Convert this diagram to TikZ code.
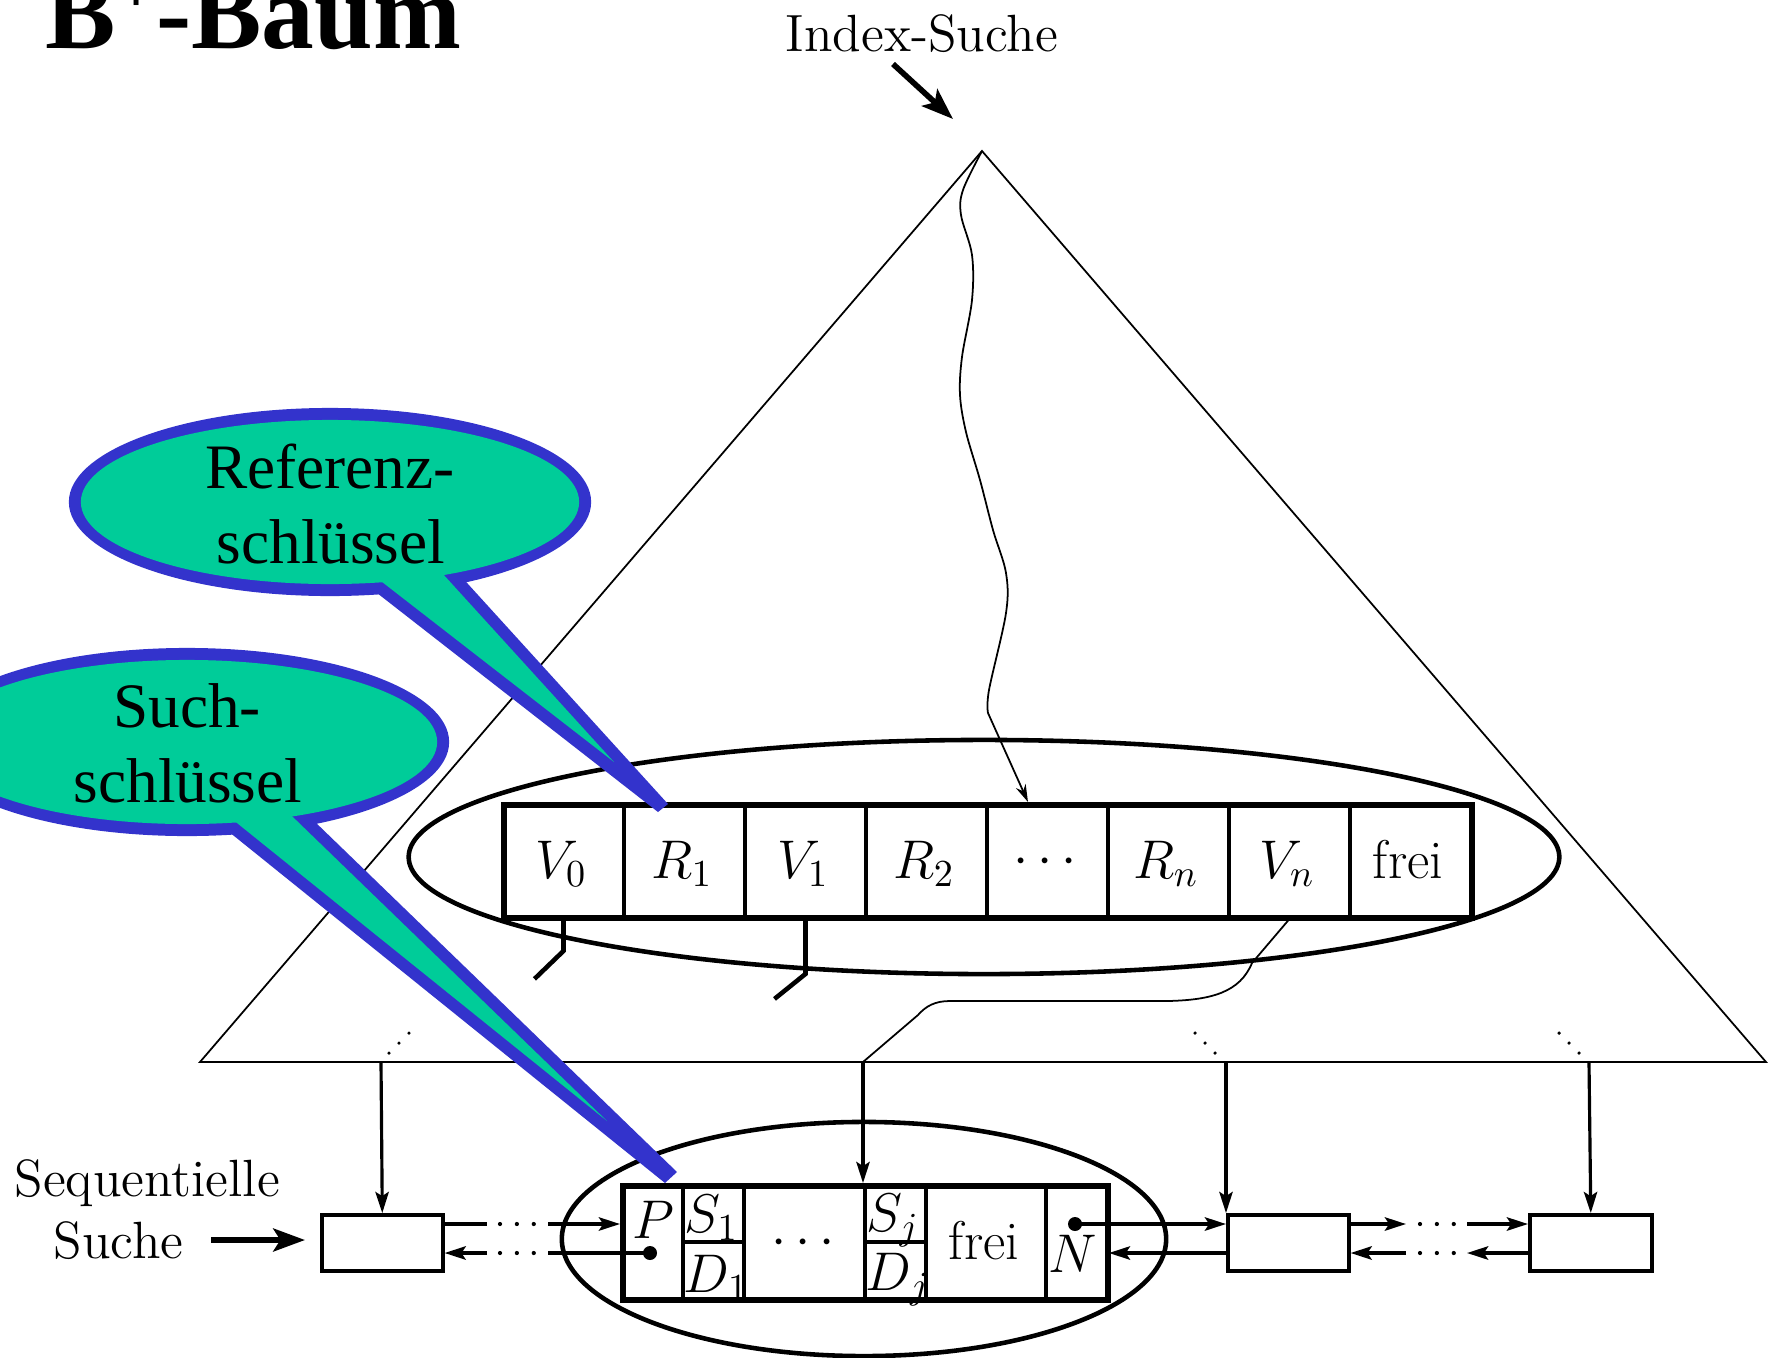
\RequirePackage{fix-cm}
\documentclass[tikz,border=0pt]{standalone}
\usepackage{fontspec}
\newfontfamily\timesfont{Liberation Serif}
\usetikzlibrary{arrows.meta}
\definecolor{bgreen}{RGB}{0,204,153}
\definecolor{bblue}{RGB}{51,51,204}
\tikzset{
  lab/.style={inner sep=0pt, font=\fontsize{15.5}{18}\selectfont},
  plaintxt/.style={inner sep=0pt, font=\fontsize{14.9}{18}\selectfont},
  bubbletxt/.style={inner sep=0pt, font=\timesfont\fontsize{18}{21}\selectfont},
  cellbox/.style={draw, line width=1.1pt, inner sep=0pt, anchor=north west, minimum height=1.13cm},
  lcellbox/.style={draw, line width=1.1pt, inner sep=0pt, anchor=north west, minimum height=1.14cm},
  framebox/.style={draw, line width=1.6pt, inner sep=0pt, anchor=north west},
  leafbox/.style={draw, line width=1.0pt, inner sep=0pt, anchor=north west, minimum height=0.56cm},
  thinline/.style={line width=0.5pt},
  tipstyle/.style={-{Stealth[length=6pt,width=3.8pt,inset=1.2pt]}},
  vptr/.style={line width=0.9pt, tipstyle},
  hptr/.style={line width=1.0pt, tipstyle},
  hseg/.style={line width=1.0pt},
  dotrow/.style={line width=1.2pt, dash pattern=on 0pt off 4.8pt, line cap=round},
  fewdots/.style={line width=1.0pt, dash pattern=on 0pt off 4pt, line cap=round},
  bigarrow/.style={line width=1.6pt, -{Stealth[length=9pt,width=6.5pt,inset=2pt]}},
  stub/.style={line width=1.3pt},
  ellipseline/.style={line width=1.3pt},
  blobdot/.style={circle, fill, inner sep=0pt, minimum size=0.14cm},
}
\begin{document}
\begin{tikzpicture}[x=0.01cm, y=-0.01cm]
\useasboundingbox (0,0) rectangle (1772,1357);
\fill[white] (0,0) rectangle (1772,1357);

% title and index label
\node[anchor=base west, inner sep=0pt, font=\timesfont\bfseries\fontsize{30}{36}\selectfont] (title) at (45,48) {B\raisebox{10pt}{\fontsize{20}{20}\selectfont +}-Baum};
\node[plaintxt, anchor=base west] (idx) at (785,51) {Index-Suche};
\coordinate (idxA) at (893,64);
\coordinate (idxB) at (953,119);
\draw[bigarrow] (idxA) -- (idxB);

% triangle
\coordinate (apex) at (982,151);
\coordinate (tl) at (200,1062);
\coordinate (tr) at (1766,1062);
\draw[thinline] (apex) -- (tl) -- (tr) -- cycle;

% upper ellipse
\draw[ellipseline] (984,857) ellipse [x radius=5.75cm, y radius=1.17cm];

% upper node
\node[cellbox, minimum width=1.21cm] (u0) at (501,802) {};
\node[cellbox, minimum width=1.21cm] (u1) at (622,802) {};
\node[cellbox, minimum width=1.21cm] (u2) at (743,802) {};
\node[cellbox, minimum width=1.21cm] (u3) at (864,802) {};
\node[cellbox, minimum width=1.21cm] (u4) at (985,802) {};
\node[cellbox, minimum width=1.21cm] (u5) at (1106,802) {};
\node[cellbox, minimum width=1.21cm] (u6) at (1227,802) {};
\node[cellbox, minimum width=1.21cm] (u7) at (1348,802) {};
\node[framebox, minimum width=9.68cm, minimum height=1.13cm] (urow) at (501,802) {};
\node[lab, anchor=base] (ul0) at (561,878) {$V_0$};
\node[lab, anchor=base] (ul1) at (682,878) {$R_1$};
\node[lab, anchor=base] (ul2) at (803,878) {$V_1$};
\node[lab, anchor=base] (ul3) at (924,878) {$R_2$};
\node[lab, anchor=base] (ul4) at (1045,874) {$\cdots$};
\node[lab, anchor=base] (ul5) at (1166,878) {$R_n$};
\node[lab, anchor=base] (ul6) at (1287,878) {$V_n$};
\node[lab, anchor=base] (ul7) at (1408,878) {frei};

% pointer stubs
\draw[stub] (u0.south) -- ++(0,32) -- ++(-29,28);
\draw[stub] (u2.south) -- ++(0,55) -- ++(-31,25);

% index search curve
\coordinate (idxtip) at (1028,802);
\draw[thinline, -{Stealth[length=5pt,width=3pt]}] plot[smooth, tension=0.55] coordinates {(apex) (963,190) (961,215) (972,255) (972,300) (962,357) (960,395) (966,432) (980,480) (993,530) (1006,573) (1006,613) (989,690) (988,713)} -- (idxtip);

% base points
\coordinate (b1) at (381,1062);
\coordinate (b2) at (863,1062);
\coordinate (b3) at (1226,1062);
\coordinate (b4) at (1589,1062);
\draw[fewdots] (b1) ++(8,-9) -- ++(22,-22);
\draw[fewdots] (b3) ++(-11,-9) -- ++(-21,-21);
\draw[fewdots] (b4) ++(-10,-9) -- ++(-21,-21);

% V_n pointer
\draw[thinline] (u6.south) -- (1252,963) .. controls (1240,992) and (1212,1000) .. (1168,1001) -- (950,1001) .. controls (935,1001) and (926,1006) .. (918,1015) -- (b2);

% lower ellipse
\draw[ellipseline] (864,1239) ellipse [x radius=3.02cm, y radius=1.17cm];

% lower node
\node[lcellbox, minimum width=0.61cm] (pc) at (620,1183) {};
\node[lcellbox, minimum width=0.61cm] (sd1) at (681,1183) {};
\node[lcellbox, minimum width=1.21cm] (dc) at (742,1183) {};
\node[lcellbox, minimum width=0.61cm] (sdj) at (863,1183) {};
\node[lcellbox, minimum width=1.20cm] (fc) at (924,1183) {};
\node[lcellbox, minimum width=0.61cm] (nc) at (1044,1183) {};
\node[framebox, minimum width=4.85cm, minimum height=1.14cm] (lrow) at (620,1183) {};
\draw[line width=1.1pt] (sd1.west) -- (sd1.east);
\draw[line width=1.1pt] (sdj.west) -- (sdj.east);
\node[lab, anchor=base] (lP) at (653,1238) {$P$};
\node[blobdot] (pdot) at (650,1253) {};
\node[lab, anchor=base west] (lS1) at (684,1232) {$S_1$};
\node[lab, anchor=base west] (lD1) at (683,1292) {$D_1$};
\node[lab, anchor=base] (ldots) at (803,1255) {$\cdots$};
\node[lab, anchor=base west] (lSj) at (866,1231) {$S_j$};
\node[lab, anchor=base west] (lDj) at (865,1290) {$D_j$};
\node[lab, anchor=base] (lfrei) at (984,1259) {frei};
\node[lab, anchor=base] (lN) at (1073,1272) {$N$};
\node[blobdot] (ndot) at (1075,1224) {};

% leaf boxes
\node[leafbox, minimum width=1.21cm] (leafL) at (320,1213) {};
\node[leafbox, minimum width=1.21cm] (leafR1) at (1226,1213) {};
\node[leafbox, minimum width=1.22cm] (leafR2) at (1528,1213) {};

% vertical arrows
\draw[vptr] (b1) -- (leafL.north);
\draw[vptr] (b2) -- (sdj.north west);
\draw[vptr] (b3) -- (leafR1.north west);
\draw[vptr] (b4) -- (leafR2.north);

% horizontal links, left
\coordinate (lt1) at (487,1224);
\coordinate (lt2) at (548,1224);
\coordinate (lb1) at (487,1253);
\coordinate (lb2) at (548,1253);
\draw[hseg] (leafL.east |- lt1) -- (lt1);
\draw[dotrow] (500,1224) -- (537,1224);
\draw[hptr] (lt2) -- (pc.west |- lt2);
\draw[hptr] (lb1) -- (leafL.east |- lb1);
\draw[dotrow] (500,1253) -- (537,1253);
\draw[hseg] (pdot.center) -- (lb2);

% horizontal links, right of node
\draw[hptr] (ndot.center) -- (leafR1.west |- ndot);
\coordinate (rb) at (1160,1253);
\draw[hptr] (leafR1.west |- rb) -- (nc.east |- rb);

% horizontal links, between leaves
\coordinate (mt1) at (1406,1224);
\coordinate (mt2) at (1467,1224);
\coordinate (mb1) at (1406,1253);
\coordinate (mb2) at (1467,1253);
\draw[hptr] (leafR1.east |- mt1) -- (mt1);
\draw[dotrow] (1420,1224) -- (1457,1224);
\draw[hptr] (mt2) -- (leafR2.west |- mt2);
\draw[hptr] (mb1) -- (leafR1.east |- mb1);
\draw[dotrow] (1420,1253) -- (1457,1253);
\draw[hptr] (leafR2.west |- mb2) -- (mb2);

% sequential search label
\node[plaintxt, anchor=base west] (seq) at (14,1196) {Sequentielle};
\node[plaintxt, anchor=base west] (such) at (53,1258) {Suche};
\coordinate (sa) at (211,1240);
\coordinate (sb) at (305,1240);
\draw[bigarrow] (sa) -- (sb);

% bubble 1
\fill[bblue] (309,540) -- (658,812) -- (668,804) -- (428,540) -- cycle;
\fill[bblue] (330,502) ellipse [x radius=2.61cm, y radius=0.94cm];
\fill[bgreen] (330,502) ellipse [x radius=2.49cm, y radius=0.82cm];
\fill[bgreen] (328,540) -- (614,762) -- (412,540) -- cycle;
\node[bubbletxt, anchor=base] (b1a) at (330,488) {Referenz-};
\node[bubbletxt, anchor=base] (b1b) at (331,563) {schlüssel};

% bubble 2
\fill[bblue] (177,790) -- (665,1183) -- (677,1172) -- (282,790) -- cycle;
\fill[bblue] (187,742) ellipse [x radius=2.62cm, y radius=0.94cm];
\fill[bgreen] (187,742) ellipse [x radius=2.50cm, y radius=0.82cm];
\fill[bgreen] (196,790) -- (607,1121) -- (265,790) -- cycle;
\node[bubbletxt, anchor=base] (b2a) at (187,727) {Such-};
\node[bubbletxt, anchor=base] (b2b) at (188,802) {schlüssel};
\end{tikzpicture}
\end{document}
